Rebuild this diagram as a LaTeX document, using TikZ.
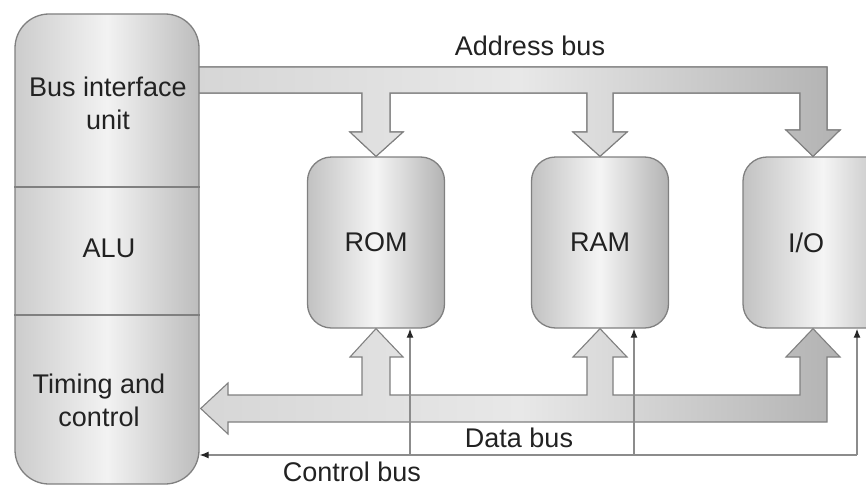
\documentclass[tikz,border=0pt]{standalone}
\usepackage{fontspec}
\setmainfont{Liberation Sans}
\usetikzlibrary{arrows.meta,calc}
\definecolor{edgegray}{HTML}{808080}
\definecolor{textgray}{HTML}{222222}
\tikzset{
  unitbox/.style={draw=edgegray, line width=1.3pt, rounded corners=24pt,
    minimum width=137pt, minimum height=171pt, inner sep=0pt,
    left color=black!24, right color=black!30, middle color=black!4},
  cpubox/.style={unitbox, rounded corners=34pt,
    minimum width=184pt, minimum height=470pt,
    left color=black!20, right color=black!26, middle color=black!5},
  busbar/.style={draw=edgegray, line width=1.1pt, line join=miter,
    left color=black!16, right color=black!30, middle color=black!9},
  ctlline/.style={draw=black!45, line width=1.3pt,
    -{Latex[length=9pt,width=7pt,color=black!85]}},
  lbl/.style={font=\fontsize{27}{33}\selectfont, text=textgray, inner sep=0pt},
  lbltwo/.style={lbl, align=center},
}
\begin{document}
\begin{tikzpicture}[x=1pt,y=-1pt]
\useasboundingbox (0,0) rectangle (866,487);
\clip (0,0) rectangle (866,487);

% memory and I/O units
\node[unitbox] (rom) at (376,242.5) {};
\node[unitbox] (ram) at (600,242.5) {};
\node[unitbox, minimum width=160pt] (io) at (823,242.5) {};

% address bus with its three branches
\fill[busbar] (199,67) -- (827,67) -- (827,130) -- (840,130) -- (io.north -| 813,0)
  -- (786,130) -- (800,130) -- (800,93)
  -- (613,93) -- (613,132) -- (627,132) -- (ram.north) -- (573,132) -- (587,132) -- (587,93)
  -- (390,93) -- (390,132) -- (403,132) -- (rom.north) -- (350,132) -- (362,132) -- (362,93)
  -- (199,93) -- cycle;
\draw[busbar, fill=none] (199,67) -- (827,67) -- (827,130) -- (840,130) -- (io.north -| 813,0)
  -- (786,130) -- (800,130) -- (800,93)
  -- (613,93) -- (613,132) -- (627,132) -- (ram.north) -- (573,132) -- (587,132) -- (587,93)
  -- (390,93) -- (390,132) -- (403,132) -- (rom.north) -- (350,132) -- (362,132) -- (362,93)
  -- (199,93);

% processor column
\node[cpubox] (cpu) at (107,249) {};
\draw[draw=edgegray, line width=1.3pt] (cpu.west |- 0,187) -- (cpu.east |- 0,187);
\draw[draw=edgegray, line width=1.3pt] (cpu.west |- 0,315) -- (cpu.east |- 0,315);

% data bus, two-way between the processor and every unit
\coordinate (dtip) at (cpu.east |- 0,408.5);
\path[busbar] (827,422) -- (228,422) -- (228,434) -- ($(dtip)+(1,0)$) -- (228,383) -- (228,395)
  -- (362,395) -- (362,357) -- (350,357) -- (rom.south) -- (403,357) -- (390,357) -- (390,395)
  -- (587,395) -- (587,357) -- (573,357) -- (ram.south) -- (627,357) -- (613,357) -- (613,395)
  -- (800,395) -- (800,357) -- (786,357) -- (io.south -| 813,0) -- (840,357) -- (827,357)
  -- cycle;

% control bus
\coordinate (cb) at (857,455);
\coordinate (c1) at (410,455);
\coordinate (c2) at (634,455);
\draw[ctlline] (cb) -- (cpu.east |- cb);
\draw[ctlline] (c1) -- (c1 |- rom.south);
\draw[ctlline] (c2) -- (c2 |- ram.south);
\draw[ctlline] (cb) -- (cb |- io.south);

% texts
\node[lbltwo] (tbiu) at (108,103) {Bus interface\\unit};
\node[lbl] (talu) at (109,248) {ALU};
\node[lbltwo] (ttc) at (99,400) {Timing and\\control};
\node[lbl] (trom) at (rom) {ROM};
\node[lbl] (tram) at (ram) {RAM};
\node[lbl] (tio) at (806,242.5) {I/O};
\node[lbl] (tab) at (530,46) {Address bus};
\node[lbl] (tdb) at (519,438) {Data bus};
\node[lbl] (tcb) at (352,472) {Control bus};
\end{tikzpicture}
\end{document}
